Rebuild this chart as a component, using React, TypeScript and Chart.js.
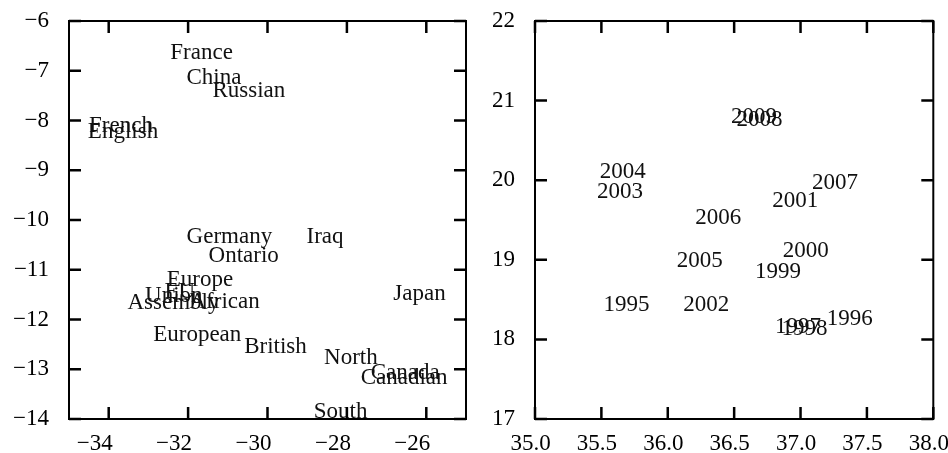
import React, { useEffect, useRef } from 'react';
import { Chart, registerables } from 'chart.js';
Chart.register(...registerables);

// ---- Left panel data ----
const leftWords = ['France', 'China', 'Russian', 'French', 'English', 'Germany', 'Iraq', 'Ontario', 'Europe', 'EU', 'Union', 'Assembly', 'African', 'Japan', 'European', 'British', 'North', 'Canada', 'Canadian', 'South'];
const leftX = [-31.66, -31.35, -30.47, -33.69, -33.64, -30.96, -28.55, -30.60, -31.70, -32.21, -32.36, -32.37, -31.08, -26.17, -31.77, -29.80, -27.90, -26.53, -26.56, -28.16];
const leftY = [-6.64, -7.15, -7.41, -8.11, -8.24, -10.35, -10.35, -10.72, -11.21, -11.44, -11.52, -11.66, -11.65, -11.48, -12.32, -12.55, -12.78, -13.08, -13.17, -13.86];
const leftXTicks = [-34, -32, -30, -28, -26];
const leftYTicks = [-14, -13, -12, -11, -10, -9, -8, -7, -6];

// ---- Right panel data ----
const rightWords = ['2009', '2008', '2004', '2003', '2007', '2001', '2006', '2000', '2005', '1999', '1995', '2002', '1997', '1998', '1996'];
const rightX = [36.65, 36.69, 35.66, 35.64, 37.26, 36.96, 36.38, 37.04, 36.24, 36.83, 35.69, 36.29, 36.98, 37.03, 37.37];
const rightY = [20.80, 20.76, 20.10, 19.85, 19.96, 19.74, 19.53, 19.11, 18.98, 18.85, 18.43, 18.43, 18.16, 18.13, 18.26];
const rightXTicks = [35.0, 35.5, 36.0, 36.5, 37.0, 37.5, 38.0];
const rightYTicks = [17, 18, 19, 20, 21, 22];

const FONT = '"Liberation Serif", "Times New Roman", serif';
const FONT_SIZE = 23;

function fmt(v: number, dec: number) {
  const s = Math.abs(v).toFixed(dec);
  return v < 0 ? '\u2212' + s : s;
}

const textPlugin = {
  id: 'textLabels',
  afterDatasetsDraw(chart: any, _args: any, opts: any) {
    const ctx = chart.ctx;
    const meta = chart.getDatasetMeta(0);
    ctx.save();
    ctx.font = `${FONT_SIZE}px ${FONT}`;
    ctx.fillStyle = '#111';
    ctx.textAlign = 'center';
    ctx.textBaseline = 'middle';
    meta.data.forEach((pt: any, i: number) => {
      ctx.fillText(opts.words[i], pt.x, pt.y);
    });
    ctx.restore();
  },
};

const framePlugin = {
  id: 'frame',
  afterDraw(chart: any) {
    const ctx = chart.ctx;
    const a = chart.chartArea;
    const xs = chart.scales.x;
    const ys = chart.scales.y;
    const len = 12;
    ctx.save();
    ctx.strokeStyle = '#000';
    ctx.lineWidth = 2.5;
    ctx.beginPath();
    xs.ticks.forEach((t: any) => {
      const px = xs.getPixelForValue(t.value);
      ctx.moveTo(px, a.bottom);
      ctx.lineTo(px, a.bottom - len);
      ctx.moveTo(px, a.top);
      ctx.lineTo(px, a.top + len);
    });
    ys.ticks.forEach((t: any) => {
      const py = ys.getPixelForValue(t.value);
      ctx.moveTo(a.left, py);
      ctx.lineTo(a.left + len, py);
      ctx.moveTo(a.right, py);
      ctx.lineTo(a.right - len, py);
    });
    ctx.stroke();
    ctx.lineWidth = 2;
    ctx.strokeRect(a.left, a.top, a.right - a.left, a.bottom - a.top);
    ctx.restore();
  },
};

type PanelProps = {
  words: string[];
  xs: number[];
  ys: number[];
  xTicks: number[];
  yTicks: number[];
  xMin: number;
  xMax: number;
  yMin: number;
  yMax: number;
  xDec: number;
  yAxisWidth: number;
  rightPad: number;
  xLabelOffset: number;
};

function Panel(p: PanelProps) {
  const ref = useRef<HTMLCanvasElement>(null);
  useEffect(() => {
    if (!ref.current) return;
    const tickFont = { family: FONT, size: FONT_SIZE };
    const chart = new Chart(ref.current, {
      type: 'scatter',
      data: {
        datasets: [
          {
            data: p.xs.map((x, i) => ({ x, y: p.ys[i] })),
            pointRadius: 0,
            showLine: false,
          },
        ],
      },
      options: {
        animation: false,
        responsive: false,
        events: [],
        layout: { padding: { top: 21, right: p.rightPad, left: 0, bottom: 0 } },
        plugins: {
          legend: { display: false },
          tooltip: { enabled: false },
          textLabels: { words: p.words },
        } as any,
        scales: {
          x: {
            type: 'linear',
            min: p.xMin,
            max: p.xMax,
            afterBuildTicks: (s: any) => {
              s.ticks = p.xTicks.map((v) => ({ value: v }));
            },
            afterFit: (s: any) => {
              s.height = 34;
              s.paddingLeft = 0;
              s.paddingRight = 0;
            },
            grid: { display: false, drawTicks: false },
            border: { display: false },
            ticks: {
              padding: 11,
              labelOffset: p.xLabelOffset,
              color: '#000',
              font: tickFont,
              maxRotation: 0,
              autoSkip: false,
              callback: (v: any) => fmt(Number(v), p.xDec),
            },
          },
          y: {
            type: 'linear',
            min: p.yMin,
            max: p.yMax,
            afterBuildTicks: (s: any) => {
              s.ticks = p.yTicks.map((v) => ({ value: v }));
            },
            afterFit: (s: any) => {
              s.width = p.yAxisWidth;
              s.paddingTop = 0;
              s.paddingBottom = 0;
            },
            grid: { display: false, drawTicks: false },
            border: { display: false },
            ticks: {
              padding: 20,
              color: '#000',
              font: tickFont,
              autoSkip: false,
              callback: (v: any) => fmt(Number(v), 0),
            },
          },
        },
      } as any,
      plugins: [textPlugin, framePlugin],
    });
    return () => chart.destroy();
  }, []);
  return (
    <canvas
      ref={ref}
      width={474}
      height={453}
      style={{ width: 474, height: 453, display: 'block' }}
    />
  );
}

export default function App() {
  return (
    <div
      style={{
        position: 'fixed',
        left: 0,
        top: 0,
        width: 948,
        height: 453,
        display: 'flex',
        background: '#fff',
      }}
    >
      <Panel
        words={leftWords}
        xs={leftX}
        ys={leftY}
        xTicks={leftXTicks}
        yTicks={leftYTicks}
        xMin={-35}
        xMax={-25}
        yMin={-14}
        yMax={-6}
        xDec={0}
        yAxisWidth={69}
        rightPad={8}
        xLabelOffset={-14}
      />
      <Panel
        words={rightWords}
        xs={rightX}
        ys={rightY}
        xTicks={rightXTicks}
        yTicks={rightYTicks}
        xMin={35}
        xMax={38}
        yMin={17}
        yMax={22}
        xDec={1}
        yAxisWidth={61}
        rightPad={14.7}
        xLabelOffset={-4.5}
      />
    </div>
  );
}
